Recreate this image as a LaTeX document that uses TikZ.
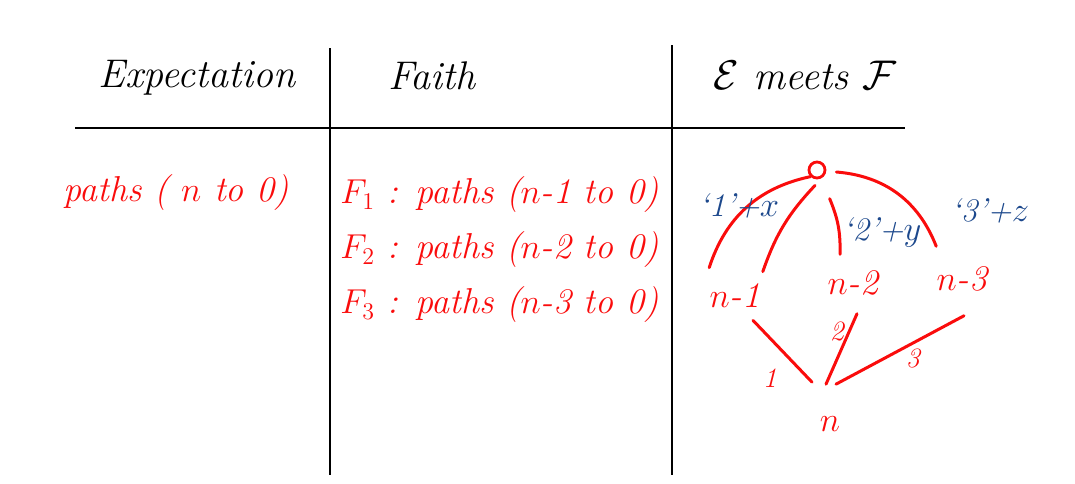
\documentclass[tikz,border=0pt]{standalone}
\usepackage{amsmath, amssymb}
\usepackage{tikz}
\usetikzlibrary{positioning, calc}

\definecolor{inkred}{RGB}{250,12,12}
\definecolor{inkblue}{RGB}{28,72,140}

\begin{document}
\begin{tikzpicture}[x=0.5pt, y=-0.5pt,
        ink/.style={inkred, line width=1.5pt, line cap=round},
        rule/.style={black, line width=1.4pt},
        head/.style={font=\fontsize{20}{24}\selectfont\itshape},
        redtext/.style={inkred, font=\fontsize{18}{22}\selectfont\itshape, inner sep=1pt},
        steptext/.style={inkred, font=\fontsize{14}{16}\selectfont\itshape, inner sep=2pt},
        bluetext/.style={inkblue, font=\fontsize{16.5}{20}\selectfont\itshape, inner sep=1pt}]
        \useasboundingbox (0,0) rectangle (1075,483);

        % Таблица
        \draw[rule] (75,128) -- (905,128);
        \draw[rule] (330,48) -- (330,475);
        \draw[rule] (672,45) -- (672,475);

        % Заголовки
        \node[head] (hexp) at (197,78) {Expectation};
        \node[head] (hfaith) at (432,76) {Faith};
        \node[head] (hmeet) at (805,76) {$\mathcal{E}$ meets $\mathcal{F}$};

        % Expectation
        \node[redtext] (exp) at (176,193) {paths ( $n$ to 0)};

        % Faith
        \node[redtext, right] (f1) at (338,195) {$F_1$ : paths ($n$-1 to 0)};
        \node[redtext, right] (f2) at (338,250) {$F_2$ : paths ($n$-2 to 0)};
        \node[redtext, right] (f3) at (338,305) {$F_3$ : paths ($n$-3 to 0)};

        % E meets F
        \node[draw=inkred, circle, line width=1.4pt, minimum size=8pt, inner sep=0pt] (zero) at (817,170) {};
        \node[redtext] (nm1) at (735,296) {$n$-1};
        \node[redtext] (nm2) at (853,283) {$n$-2};
        \node[redtext] (nm3) at (962,279) {$n$-3};
        \node[redtext] (n) at (830,424) {$n$};

        % Дуги к нулю
        \draw[ink] ($(nm1.north west)+(2,-14)$) to[bend left=30] (zero.south west);
        \draw[ink] ($(nm1.north east)+(0,-10)$) to[bend left=12] ($(zero.south)+(-2,6)$);
        \draw[ink] ($(nm2.north)+(-13,-14)$) to[bend right=12] ($(zero.south east)+(6,22)$);
        \draw[ink] ($(zero.east)+(10,2)$) to[bend left=32] ($(nm3.north west)+(2,-18)$);

        % Подписи дуг
        \node[bluetext] (lx) at (739,206) {`1'+$x$};
        \node[bluetext] (ly) at (882,232) {`2'+$y$};
        \node[bluetext] (lz) at (990,211) {`3'+$z$};

        % Шаги к n
        \draw[ink] ($(nm1.south)+(18,10)$) -- ($(n.north)+(-18,-32)$)
            node[pos=0.7, below left, steptext, xshift=-6pt] (s1) {1};
        \draw[ink] ($(nm2.south)+(4,16)$) -- ($(n.north)+(-4,-30)$)
            node[pos=0.25, left, steptext] (s2) {2};
        \draw[ink] ($(nm3.south)+(2,22)$) -- ($(n.north)+(6,-30)$)
            node[pos=0.4, below, steptext] (s3) {3};

\end{tikzpicture}
\end{document}
